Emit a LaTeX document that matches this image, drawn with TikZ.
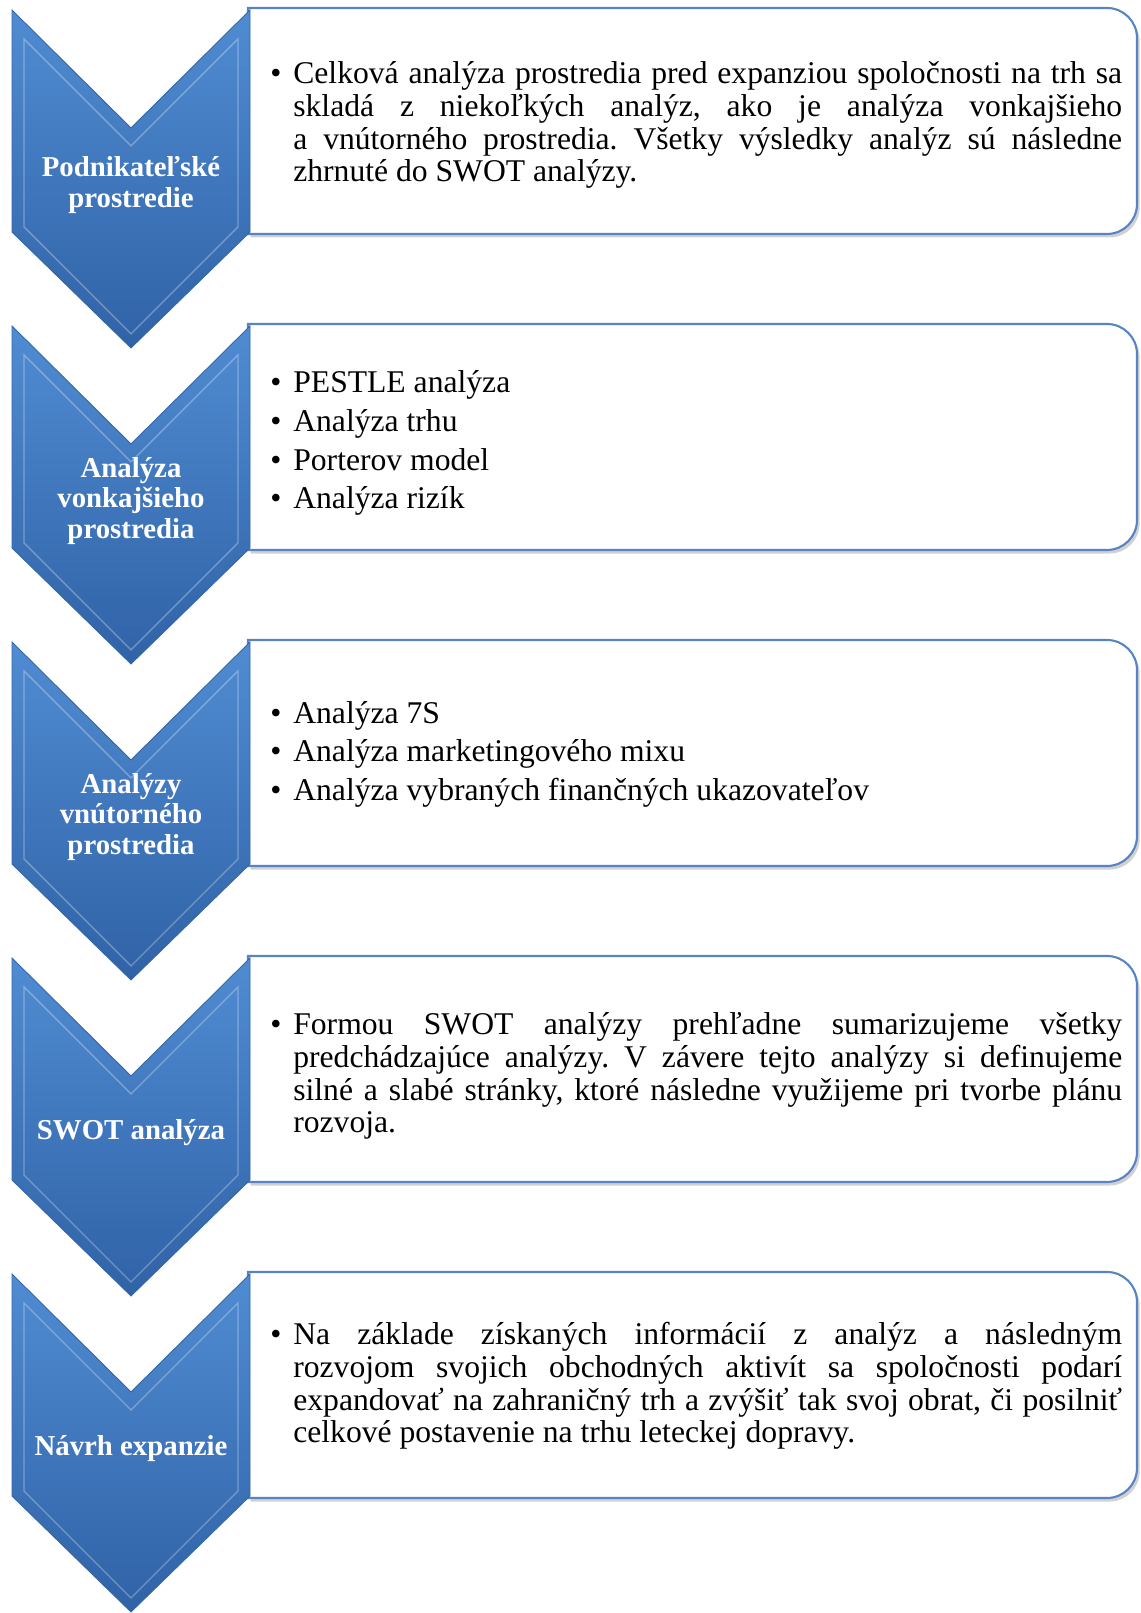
\documentclass[tikz,border=0pt]{standalone}
\usepackage{fontspec}
\setmainfont{Liberation Serif}
\usetikzlibrary{shadows}

\definecolor{chevtop}{RGB}{80,140,210}
\definecolor{chevbot}{RGB}{48,98,166}
\definecolor{chevedge}{RGB}{52,102,168}
\definecolor{boxedge}{RGB}{88,132,196}

\newlength{\bulind}
\setlength{\bulind}{4.6mm}
\newcommand{\punkt}[1]{\par\noindent\hangindent=\bulind\hangafter=1\makebox[\bulind][l]{\textbullet}#1\par}
\tolerance=9999
\hyphenpenalty=10000
\frenchspacing

\tikzset{
  chevronshape/.style={top color=chevtop, bottom color=chevbot, draw=chevedge, line width=0.5pt},
  bevel/.style={draw=white, opacity=0.3, line width=0.8pt},
  textbox/.style={fill=white, draw=boxedge, line width=1.2pt,
    drop shadow={shadow xshift=1.5pt, shadow yshift=-2pt, opacity=0.3, fill=black!60}},
  steplabel/.style={text=white, align=center, inner sep=0pt,
    font=\bfseries\fontsize{16.4}{17.6}\selectfont},
  bodytext/.style={text width=170.4mm, inner sep=0pt, anchor=west, align=justify,
    font=\fontsize{18}{18.6}\selectfont}
}

\begin{document}
\begin{tikzpicture}[x=0.02cm, y=0.02cm]
  \useasboundingbox (0,0) rectangle (1140,1613);
  \foreach \i/\lab in {0/{Podnikateľské\\prostredie}, 1/{Analýza\\vonkajšieho\\prostredia},
      2/{Analýzy\\vnútorného\\prostredia}, 3/{SWOT analýza}, 4/{Návrh expanzie}} {
    \pgfmathsetmacro{\yt}{1603-316*\i}
    % box on the right
    \draw[textbox] (248,\yt+2) -- (1107,\yt+2) arc[start angle=90, end angle=0, radius=30]
      -- (1137,\yt-194) arc[start angle=0, end angle=-90, radius=30] -- (248,\yt-224) -- cycle;
    % chevron
    \draw[chevronshape] (12,\yt) -- (131,\yt-118) -- (250,\yt) -- (250,\yt-222)
      -- (131,\yt-338) -- (12,\yt-222) -- cycle;
    \draw[bevel] (24,\yt-29) -- (131,\yt-136) -- (238,\yt-29) -- (238,\yt-217)
      -- (131,\yt-324) -- (24,\yt-217) -- cycle;
    \node[steplabel] (lab\i) at (131,\yt-175) {\lab};
  }
  %
  \node[bodytext] (txt0) at (270,1493) {%
    \punkt{Celková analýza prostredia pred expanziou spoločnosti na trh sa\linebreak
    skladá z niekoľkých analýz, ako je analýza vonkajšieho\linebreak
    a vnútorného prostredia. Všetky výsledky analýz sú následne\linebreak
    zhrnuté do SWOT analýzy.}};
  \node[bodytext] (txt1) at (270,1178) {\setlength{\parskip}{3.4pt}%
    \punkt{PESTLE analýza}
    \punkt{Analýza trhu}
    \punkt{Porterov model}
    \punkt{Analýza rizík}};
  \node[bodytext] (txt2) at (270,867) {\setlength{\parskip}{3.4pt}%
    \punkt{Analýza 7S}
    \punkt{Analýza marketingového mixu}
    \punkt{Analýza vybraných finančných ukazovateľov}};
  \node[bodytext] (txt3) at (270,542) {%
    \punkt{Formou SWOT analýzy prehľadne sumarizujeme všetky\linebreak
    predchádzajúce analýzy. V závere tejto analýzy si definujeme\linebreak
    silné a slabé stránky, ktoré následne využijeme pri tvorbe plánu\linebreak
    rozvoja.}};
  \node[bodytext] (txt4) at (270,232) {%
    \punkt{Na základe získaných informácií z analýz a následným\linebreak
    rozvojom svojich obchodných aktivít sa spoločnosti podarí\linebreak
    expandovať na zahraničný trh a zvýšiť tak svoj obrat, či posilniť\linebreak
    celkové postavenie na trhu leteckej dopravy.}};
\end{tikzpicture}
\end{document}
